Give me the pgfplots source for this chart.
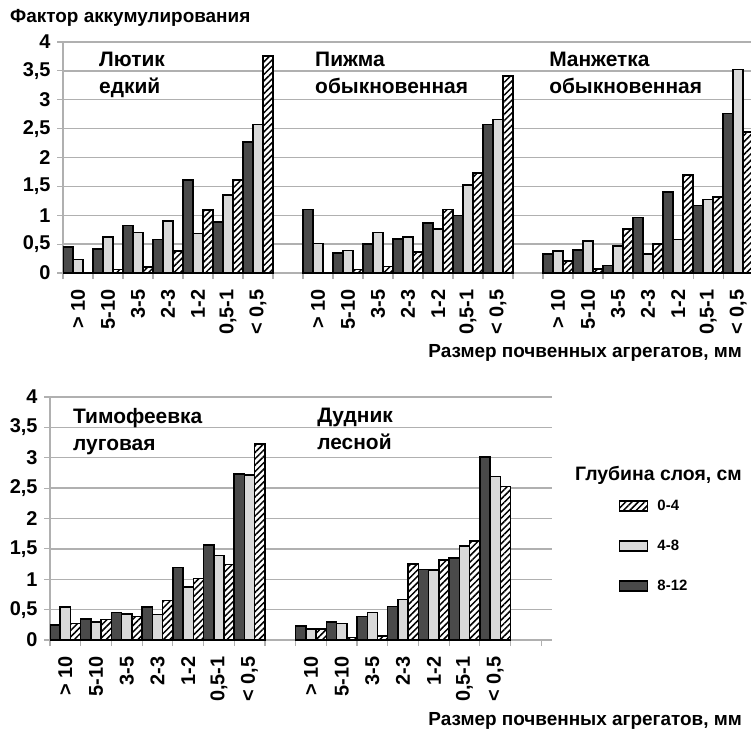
\documentclass[border=0pt]{standalone}
\usepackage{fontspec}
\setmainfont{Liberation Sans}
\usepackage{pgfplots}
\pgfplotsset{compat=1.18}
\usepackage{pgfplotstable}
\usetikzlibrary{patterns.meta}

\definecolor{barDark}{HTML}{4A4A4A}
\definecolor{barLight}{HTML}{D9D9D9}
\definecolor{gridGray}{HTML}{B0B0B0}

% Accumulation factor by aggregate size; columns: 8-12, 4-8, 0-4 cm layers
\pgfplotstableread{
x  dark light hatch
0  0.45 0.23 0
1  0.42 0.62 0.06
2  0.82 0.70 0.10
3  0.58 0.90 0.38
4  1.61 0.68 1.09
5  0.88 1.35 1.61
6  2.27 2.57 3.76
8  1.10 0.51 0
9  0.35 0.39 0.06
10 0.50 0.70 0.11
11 0.59 0.62 0.36
12 0.87 0.76 1.10
13 1.00 1.52 1.73
14 2.57 2.66 3.41
16 0.33 0.38 0.21
17 0.40 0.55 0.07
18 0.13 0.47 0.76
19 0.96 0.33 0.50
20 1.40 0.58 1.70
21 1.17 1.27 1.32
22 2.76 3.52 2.44
}\topdata

\pgfplotstableread{
x  dark light hatch
0  0.25 0.54 0.27
1  0.35 0.30 0.34
2  0.45 0.43 0.39
3  0.54 0.42 0.65
4  1.19 0.87 1.01
5  1.56 1.39 1.24
6  2.73 2.72 3.23
8  0.23 0.18 0.18
9  0.30 0.27 0.04
10 0.39 0.45 0.07
11 0.55 0.67 1.25
12 1.16 1.15 1.32
13 1.35 1.55 1.63
14 3.01 2.69 2.53
}\bottomdata

\tikzset{
  species/.style={anchor=north west, align=left, inner sep=0pt, font=\fontsize{21}{27}\selectfont\bfseries},
}

\pgfplotsset{
  accum/.style={
    scale only axis,
    ymin=0, ymax=4,
    ytick={0,0.5,...,4},
    ymajorgrids,
    grid style={gridGray, line width=1.4bp},
    axis x line=bottom, axis y line=left,
    axis line style={-, gridGray, line width=1.4bp},
    tick align=outside,
    major tick length=6bp,
    minor tick length=6bp,
    tick style={gridGray, line width=1.2bp},
    major x tick style={draw=none},
    /pgf/number format/use comma,
    /pgf/number format/assume math mode=true,
    yticklabel style={font=\fontsize{20}{20}\selectfont\bfseries, xshift=-3bp},
    % rotated labels: a negative xshift moves them down, away from the axis
    xticklabel style={font=\fontsize{20}{20}\selectfont\bfseries, rotate=90, anchor=east, xshift=-7bp},
  },
  darkbar/.style={ybar, bar width=0.3333, bar shift=-0.3333, fill=barDark, draw=black, line width=1.5bp},
  lightbar/.style={ybar, bar width=0.3333, bar shift=0, fill=barLight, draw=black, line width=1.5bp},
  hatchbar/.style={ybar, bar width=0.3333, bar shift=0.3333, fill=white, draw=black, line width=1.5bp,
    postaction={pattern={Lines[angle=45,distance=4.5bp,line width=1.5bp]}, pattern color=black}},
  boxlegend/.style={legend image code/.code={\draw[##1] (0bp,-5bp) rectangle (28bp,5bp);}},
}

\begin{document}
\begin{tikzpicture}[x=1bp,y=1bp]
\useasboundingbox (0,0) rectangle (751,-733);

% upper row: three species on one axis
\begin{axis}[accum,
  at={(63bp,-273bp)}, anchor=south west,
  width=688bp, height=231bp,
  xmin=-0.5, xmax=22.43,
  xtick={0,1,2,3,4,5,6,8,9,10,11,12,13,14,16,17,18,19,20,21,22},
  xticklabels={{> 10},{5-10},{3-5},{2-3},{1-2},{0,5-1},{< 0,5},
               {> 10},{5-10},{3-5},{2-3},{1-2},{0,5-1},{< 0,5},
               {> 10},{5-10},{3-5},{2-3},{1-2},{0,5-1},{< 0,5}},
  minor xtick={-0.5,0.5,...,22.5},
]
\addplot[darkbar]  table[x=x,y=dark]  {\topdata};
\addplot[lightbar] table[x=x,y=light] {\topdata};
\addplot[hatchbar] table[x=x,y=hatch] {\topdata};
\node[species] at (axis cs:0.7,3.83) {Лютик\\едкий};
\node[species] at (axis cs:7.9,3.83) {Пижма\\обыкновенная};
\node[species] at (axis cs:15.7,3.83) {Манжетка\\обыкновенная};
\end{axis}

% lower row: two species and the legend
\begin{axis}[accum,
  at={(50bp,-640bp)}, anchor=south west,
  width=502bp, height=243bp,
  xmin=-0.5, xmax=15.85,
  xtick={0,1,2,3,4,5,6,8,9,10,11,12,13,14},
  xticklabels={{> 10},{5-10},{3-5},{2-3},{1-2},{0,5-1},{< 0,5},
               {> 10},{5-10},{3-5},{2-3},{1-2},{0,5-1},{< 0,5}},
  minor xtick={-0.5,0.5,...,15.5},
  reverse legend,
  legend cell align=left,
  legend style={at={(1.133,0.576)}, anchor=north west, draw=none, fill=none,
    inner sep=0pt, row sep=28bp, column sep=9bp,
    nodes={inner sep=0pt, font=\fontsize{15}{15}\selectfont\bfseries}},
]
\addplot[darkbar, boxlegend]  table[x=x,y=dark]  {\bottomdata};
\addlegendentry{8-12}
\addplot[lightbar, boxlegend] table[x=x,y=light] {\bottomdata};
\addlegendentry{4-8}
\addplot[hatchbar, boxlegend] table[x=x,y=hatch] {\bottomdata};
\addlegendentry{0-4}
\node[species] at (axis cs:0.25,3.82) {Тимофеевка\\луговая};
\node[species] at (axis cs:8.2,3.82) {Дудник\\лесной};
\end{axis}

\node[anchor=base west, inner sep=0pt, font=\fontsize{19}{19}\selectfont\bfseries]
  at (10,-23) {Фактор аккумулирования};
\node[anchor=base east, inner sep=0pt, font=\fontsize{19}{19}\selectfont\bfseries]
  at (742,-357) {Размер почвенных агрегатов, мм};
\node[anchor=base east, inner sep=0pt, font=\fontsize{19}{19}\selectfont\bfseries]
  at (742,-725) {Размер почвенных агрегатов, мм};
\node[anchor=base west, inner sep=0pt, font=\fontsize{19.5}{19.5}\selectfont\bfseries]
  at (575,-480) {Глубина слоя, см};
\end{tikzpicture}
\end{document}
